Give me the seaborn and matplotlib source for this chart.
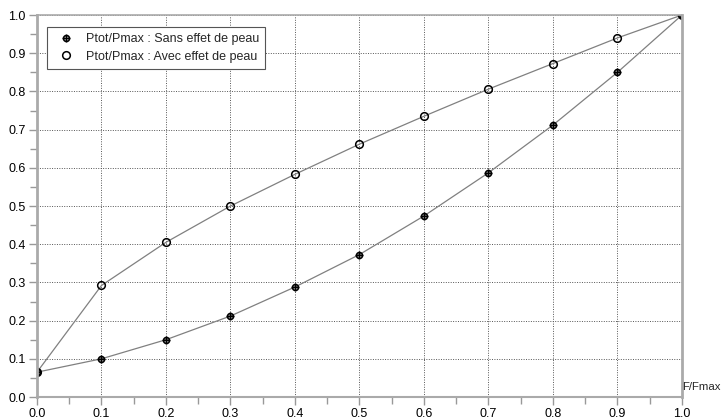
import numpy as np
import pandas as pd
import matplotlib
matplotlib.use("Agg")
import matplotlib.pyplot as plt
import seaborn as sns
from matplotlib.path import Path
from matplotlib.ticker import MultipleLocator

# data
f_ratio = [0.0, 0.1, 0.2, 0.3, 0.4, 0.5, 0.6, 0.7, 0.8, 0.9, 1.0]
p_sans = [0.065, 0.100, 0.150, 0.212, 0.288, 0.373, 0.474, 0.587, 0.712, 0.850, 1.0]
p_avec = [0.065, 0.292, 0.405, 0.500, 0.583, 0.662, 0.735, 0.806, 0.873, 0.940, 1.0]
label_sans = "Ptot/Pmax : Sans effet de peau"
label_avec = "Ptot/Pmax : Avec effet de peau"
xlabel = "F/Fmax"

sns.set_style("white")
plt.rcParams['font.family'] = ['Liberation Sans', 'DejaVu Sans']

# circle with a cross inside
circ = Path.unit_circle()
cross = Path([(-1.25, 0), (1.25, 0), (0, -1.25), (0, 1.25)],
             [Path.MOVETO, Path.LINETO, Path.MOVETO, Path.LINETO])
oplus = Path.make_compound_path(circ, cross)

df = pd.DataFrame({"f": f_ratio, "sans": p_sans, "avec": p_avec})

fig = plt.figure(figsize=(7.21, 4.19), dpi=100)
ax = fig.add_axes([0.0513, 0.0525, 0.8946, 0.9117])

line_kw = dict(color="#808080", linewidth=0.9, markersize=5.5,
               markerfacecolor="none", markeredgecolor="black", markeredgewidth=1.1)
sns.lineplot(data=df, x="f", y="sans", marker=oplus, label=label_sans, ax=ax, **line_kw)
sns.lineplot(data=df, x="f", y="avec", marker="o", label=label_avec, ax=ax, **line_kw)

ax.set_xlim(0, 1)
ax.set_ylim(0, 1)
ax.xaxis.set_major_locator(MultipleLocator(0.1))
ax.xaxis.set_minor_locator(MultipleLocator(0.05))
ax.yaxis.set_major_locator(MultipleLocator(0.1))
ax.yaxis.set_minor_locator(MultipleLocator(0.05))
ax.xaxis.set_major_formatter(lambda v, p: f"{v:.1f}")
ax.yaxis.set_major_formatter(lambda v, p: f"{v:.1f}")
ax.tick_params(which="both", direction="out", colors="#999999", labelcolor="black",
               labelsize=9, bottom=True, left=True, pad=2)
ax.tick_params(which="major", length=6, width=1)
ax.tick_params(which="minor", length=5, width=1)
ax.grid(True, which="major", linestyle=(0, (1, 1.5)), color="#555555", linewidth=0.7)
for s in ax.spines.values():
    s.set_color("#aaaaaa")
ax.spines["left"].set_linewidth(2)
ax.spines["right"].set_linewidth(2)
ax.spines["bottom"].set_linewidth(1.5)
ax.spines["top"].set_linewidth(1.2)

ax.set_xlabel("")
ax.set_ylabel("")
ax.text(1.0, 0.013, xlabel, transform=ax.transAxes, fontsize=8.2, ha="left", va="bottom")

leg = ax.legend(loc="upper left", fontsize=9, frameon=True, fancybox=False,
                edgecolor="#555555", framealpha=1, handlelength=2.0, handletextpad=0.6,
                borderpad=0.5, labelspacing=0.45, bbox_to_anchor=(0.006, 0.985))
leg.get_frame().set_linewidth(0.8)
for h in leg.get_lines():
    h.set_linestyle("none")

fig.savefig("out.png", dpi=100)
